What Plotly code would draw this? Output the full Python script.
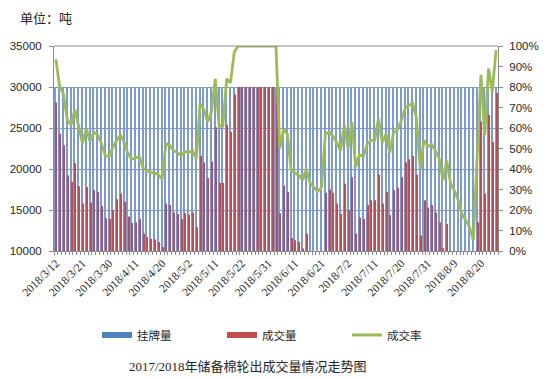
import plotly.graph_objects as go

dates = [
    "2018/3/12", "2018/3/13", "2018/3/14", "2018/3/15", "2018/3/16", "2018/3/19", "2018/3/20",
    "2018/3/21", "2018/3/22", "2018/3/23", "2018/3/26", "2018/3/27", "2018/3/28", "2018/3/29",
    "2018/3/30", "2018/4/2", "2018/4/3", "2018/4/4", "2018/4/8", "2018/4/9", "2018/4/10",
    "2018/4/11", "2018/4/12", "2018/4/13", "2018/4/16", "2018/4/17", "2018/4/18", "2018/4/19",
    "2018/4/20", "2018/4/23", "2018/4/24", "2018/4/25", "2018/4/26", "2018/4/27", "2018/4/28",
    "2018/5/2", "2018/5/3", "2018/5/4", "2018/5/7", "2018/5/8", "2018/5/9", "2018/5/10",
    "2018/5/11", "2018/5/14", "2018/5/15", "2018/5/16", "2018/5/17", "2018/5/18", "2018/5/21",
    "2018/5/22", "2018/5/23", "2018/5/24", "2018/5/25", "2018/5/28", "2018/5/29", "2018/5/30",
    "2018/5/31", "2018/6/1", "2018/6/4", "2018/6/5", "2018/6/6", "2018/6/7", "2018/6/8",
    "2018/6/11", "2018/6/12", "2018/6/13", "2018/6/14", "2018/6/15", "2018/6/19", "2018/6/20",
    "2018/6/21", "2018/6/22", "2018/6/25", "2018/6/26", "2018/6/27", "2018/6/28", "2018/6/29",
    "2018/7/2", "2018/7/3", "2018/7/4", "2018/7/5", "2018/7/6", "2018/7/9", "2018/7/10",
    "2018/7/11", "2018/7/12", "2018/7/13", "2018/7/16", "2018/7/17", "2018/7/18", "2018/7/19",
    "2018/7/20", "2018/7/23", "2018/7/24", "2018/7/25", "2018/7/26", "2018/7/27", "2018/7/30",
    "2018/7/31", "2018/8/1", "2018/8/2", "2018/8/3", "2018/8/6", "2018/8/7", "2018/8/8",
    "2018/8/9", "2018/8/10", "2018/8/13", "2018/8/14", "2018/8/15", "2018/8/16", "2018/8/17",
    "2018/8/20", "2018/8/21", "2018/8/22", "2018/8/23", "2018/8/24",
]

# 挂牌量 (吨)
listed = [30000] * 117

# 成交量 (吨)
traded = [
    28100, 24300, 22900, 19200, 18400, 20700, 17900, 15800, 17800, 15900,
    17400, 17200, 15500, 14000, 13900, 15000, 16300, 17000, 16000, 14200,
    13400, 13500, 13900, 12100, 11700, 11500, 11400, 11100, 10500, 15800,
    15600, 14700, 14500, 13900, 14600, 14400, 14700, 12900, 21600, 20800,
    18900, 20900, 25100, 18300, 18300, 25400, 24500, 29100, 30000, 30000,
    30000, 30000, 30000, 30000, 30000, 30000, 30000, 30000, 30000, 14600,
    18000, 17200, 11600, 11300, 11100, 10300, 12100, 9900, 9300, 8700,
    9300, 17100, 17500, 17100, 15800, 14500, 18200, 15000, 19000, 12100,
    14100, 13900, 15600, 16200, 16200, 19300, 15800, 17200, 14400, 17400,
    17700, 19000, 20800, 21200, 21600, 19300, 11900, 16200, 15300, 15600,
    14700, 13500, 10400, 13300, 10000, 8900, 7500, 5400, 4500, 3500,
    1600, 13500, 25800, 17000, 26600, 23300, 29300,
]

# 成交率 (%)
rate_pct = [
    93.5, 80, 76.5, 64, 61.5, 69, 61, 52.5, 59.5, 53.5,
    58, 56.5, 52.5, 46.5, 46, 50.5, 54, 56.5, 53, 47.5,
    44.8, 45.5, 46, 40.5, 39, 38.3, 38, 37.2, 35, 52.5,
    51.5, 49, 48, 46.5, 48.5, 48, 49, 45, 72, 69,
    63, 68, 84, 61, 61, 84, 82, 97, 100, 100,
    100, 100, 100, 100, 100, 100, 100, 100, 100, 50,
    59.5, 57, 39.5, 38, 37, 34.5, 40, 33, 31, 29,
    31, 57, 58, 56, 53, 49, 61.5, 50, 63, 41,
    47, 46, 52, 54, 54, 64.5, 53, 57, 48, 58,
    59, 63.5, 69.5, 71, 72, 65, 40, 54, 51, 52,
    49, 45, 34.5, 44, 33, 29.5, 25, 18, 15, 11.7,
    5.2, 46, 86, 56.5, 89, 78, 98,
]
rate = [v / 100 for v in rate_pct]

label_every = 7
ticktext = [d if i % label_every == 0 else "" for i, d in enumerate(dates)]

BLUE = "#4F81BD"
BLUE_BAR = "#7D9BD1"
RED = "#C0504D"
RED_BAR = "#B4505A"
GREEN = "#9BBB59"
AXIS = "#8C8C8C"
GRID = "#8496C2"
TXT = "#262626"

# page body adds an 8px offset; targets below are in screen pixels
OFF = 8
W, H = 554, 381
L, R, T, B = 54 - OFF, 498 - OFF, 46 - OFF, 251 - OFF
def px(xs):
    return (xs - OFF - L) / (R - L)
def py(ys):
    return (B - (ys - OFF)) / (B - T)

fig = go.Figure()
fig.add_trace(go.Bar(x=dates, y=listed, name="挂牌量", marker_color=BLUE_BAR,
                     marker_line_width=0, legendgroup="a", showlegend=False))
fig.add_trace(go.Bar(x=dates, y=traded, name="成交量", marker_color=RED_BAR,
                     marker_line_width=0, legendgroup="b", showlegend=False))
fig.add_trace(go.Scatter(x=dates, y=rate, name="成交率", mode="lines",
                         line=dict(color=GREEN, width=2.8), yaxis="y2",
                         legendgroup="c", legendrank=3))
# legend swatches for the bar series (wide rectangles like the original)
fig.add_trace(go.Scatter(x=[None], y=[None], name="挂牌量", mode="lines",
                         line=dict(color=BLUE, width=6), legendgroup="a",
                         legendrank=1))
fig.add_trace(go.Scatter(x=[None], y=[None], name="成交量", mode="lines",
                         line=dict(color=RED, width=6), legendgroup="b",
                         legendrank=2))

fig.update_layout(
    width=W, height=H,
    margin=dict(l=L, r=W - R, t=T, b=H - B, autoexpand=False),
    paper_bgcolor="white", plot_bgcolor="white",
    barmode="group", bargap=0.47, bargroupgap=0,
    font=dict(family="Liberation Sans, Noto Sans CJK SC", size=11.5, color=TXT),
    showlegend=True,
    legend=dict(orientation="h", xref="paper", yref="paper",
                x=px(97), y=py(335), xanchor="left", yanchor="middle",
                entrywidth=80, entrywidthmode="pixels", traceorder="normal",
                font=dict(family="Noto Sans CJK SC", size=11.5, color=TXT),
                bgcolor="rgba(0,0,0,0)"),
    xaxis=dict(type="category", tickmode="array", tickvals=dates, ticktext=ticktext,
               tickangle=-45, tickson="boundaries", ticks="outside", ticklen=3,
               tickcolor=AXIS, showline=True, linecolor=AXIS, linewidth=1,
               mirror=False, showgrid=False, automargin=False,
               tickfont=dict(family="Liberation Serif", size=11.5, color=TXT)),
    yaxis=dict(range=[10000, 35000], tickmode="linear", tick0=10000, dtick=5000,
               tickformat="d",
               showgrid=True, gridcolor=GRID, gridwidth=1, ticks="outside",
               ticklen=4, tickcolor=AXIS, showline=True, linecolor=AXIS,
               ticklabelstandoff=5, zeroline=False, automargin=False,
               tickfont=dict(size=11.5, color=TXT)),
    yaxis2=dict(range=[0, 1], tickmode="linear", tick0=0, dtick=0.1,
                tickformat=".0%", overlaying="y", side="right", showgrid=False,
                ticks="outside", ticklen=4, tickcolor=AXIS, showline=True,
                linecolor=AXIS, zeroline=False, ticklabelstandoff=4,
                automargin=False,
                tickfont=dict(size=11.5, color=TXT)),
    annotations=[
        dict(text="单位：吨", xref="paper", yref="paper", x=px(18),
             y=py(17), xanchor="left", yanchor="middle", showarrow=False,
             font=dict(family="Noto Sans CJK SC", size=13, color=TXT)),
        dict(text="2017/2018年储备棉轮出成交量情况走势图", xref="paper",
             yref="paper", x=px(248), y=py(366), xanchor="center",
             yanchor="middle", showarrow=False,
             font=dict(family="Liberation Serif, Noto Sans CJK SC", size=13, color=TXT)),
    ],
)
fig.add_shape(type="line", xref="paper", yref="paper", x0=0, x1=1, y0=1, y1=1,
              line=dict(color=AXIS, width=1))

fig.write_html("out.html")
